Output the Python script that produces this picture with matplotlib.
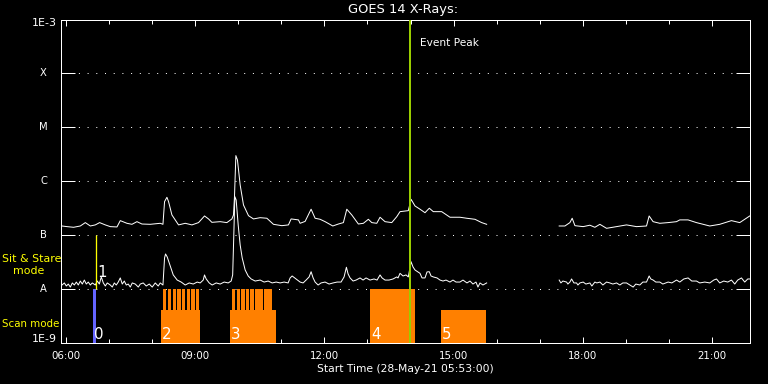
import numpy as np
import matplotlib
matplotlib.use("Agg")
import matplotlib.pyplot as plt
from matplotlib.ticker import FixedLocator, NullLocator, NullFormatter

# ---------------- data ----------------
title = "GOES 14 X-Rays:"
xlabel = "Start Time (28-May-21 05:53:00)"
x_start, x_end = 5 + 53 / 60, 21 + 53 / 60          # decimal hours
time_ticks = [6, 9, 12, 15, 18, 21]
time_tick_labels = ["06:00", "09:00", "12:00", "15:00", "18:00", "21:00"]
minor_time_ticks = list(range(6, 22))
flux_min, flux_max = 1e-9, 1e-3
class_levels = [1e-8, 1e-7, 1e-6, 1e-5, 1e-4]
class_labels = ["A", "B", "C", "M", "X"]

# long channel (1-8 A), decimal hours / W m^-2 ; nan = data gap
long_t = [5.907, 6.023, 6.176, 6.332, 6.448, 6.564, 6.680, 6.780, 6.912, 7.028,
          7.183, 7.260, 7.415, 7.531, 7.647, 7.763, 7.956, 8.188, 8.251, 8.288,
          8.343, 8.381, 8.459, 8.613, 8.768, 8.923, 9.077, 9.216, 9.309, 9.387,
          9.580, 9.735, 9.852, 9.889, 9.912, 9.944, 9.981, 10.044, 10.121, 10.237,
          10.353, 10.508, 10.664, 10.817, 11.012, 11.165, 11.227, 11.397, 11.436, 11.552,
          11.691, 11.784, 11.900, 12.016, 12.195, 12.325, 12.441, 12.520, 12.636, 12.789,
          12.905, 13.021, 13.100, 13.216, 13.292, 13.408, 13.564, 13.680, 13.756, 13.949,
          14.012, 14.104, 14.220, 14.336, 14.436, 14.529, 14.724, 14.916, 15.148, 15.304,
          15.497, 15.652, 15.768, 16.600,
          17.452, 17.585, 17.701, 17.754, 17.818, 18.009, 18.165, 18.281, 18.397, 18.552,
          18.784, 19.016, 19.248, 19.480, 19.541, 19.633, 19.789, 19.981, 20.176, 20.253,
          20.445, 20.640, 20.949, 21.181, 21.452, 21.645, 21.761, 21.877]
long_f = [1.48e-7, 1.44e-7, 1.40e-7, 1.48e-7, 1.71e-7, 1.48e-7, 1.55e-7, 1.71e-7, 1.55e-7, 1.44e-7,
          1.42e-7, 1.86e-7, 1.66e-7, 1.59e-7, 1.78e-7, 1.61e-7, 1.59e-7, 1.66e-7, 1.59e-7, 4.19e-7,
          5.04e-7, 4.19e-7, 2.37e-7, 1.55e-7, 1.66e-7, 1.55e-7, 1.71e-7, 2.27e-7, 2.00e-7, 1.73e-7,
          1.78e-7, 1.71e-7, 2.00e-7, 2.37e-7, 5.18e-7, 2.99e-6, 2.48e-6, 8.53e-7, 3.63e-7, 2.30e-7,
          2.00e-7, 2.11e-7, 2.06e-7, 1.59e-7, 1.50e-7, 1.55e-7, 2.00e-7, 1.92e-7, 1.66e-7, 1.80e-7,
          3.03e-7, 2.06e-7, 1.97e-7, 1.78e-7, 1.48e-7, 1.61e-7, 1.71e-7, 3.03e-7, 2.37e-7, 1.61e-7,
          1.66e-7, 1.97e-7, 1.71e-7, 1.66e-7, 2.15e-7, 1.78e-7, 1.71e-7, 2.20e-7, 2.73e-7, 2.85e-7,
          4.63e-7, 3.48e-7, 3.03e-7, 2.61e-7, 3.16e-7, 2.73e-7, 2.73e-7, 2.15e-7, 2.15e-7, 2.06e-7,
          1.97e-7, 1.71e-7, 1.59e-7, float("nan"),
          1.48e-7, 1.48e-7, 1.71e-7, 2.06e-7, 1.50e-7, 1.44e-7, 1.53e-7, 1.40e-7, 1.59e-7, 1.34e-7,
          1.44e-7, 1.55e-7, 1.44e-7, 1.48e-7, 2.27e-7, 1.78e-7, 1.66e-7, 1.71e-7, 1.78e-7, 1.92e-7,
          1.92e-7, 1.71e-7, 1.48e-7, 1.59e-7, 1.86e-7, 1.71e-7, 1.97e-7, 2.27e-7]

# short channel (0.5-4 A)
short_t = [5.907, 5.961, 6.007, 6.053, 6.100, 6.146, 6.193, 6.239, 6.285, 6.332,
           6.378, 6.425, 6.471, 6.517, 6.564, 6.610, 6.680, 6.726, 6.773, 6.819,
           6.866, 6.912, 6.958, 7.028, 7.074, 7.121, 7.167, 7.213, 7.260, 7.306,
           7.353, 7.399, 7.445, 7.492, 7.538, 7.608, 7.678, 7.724, 7.793, 7.863,
           7.933, 8.002, 8.072, 8.141, 8.188, 8.251, 8.288, 8.311, 8.350, 8.420,
           8.490, 8.582, 8.675, 8.768, 8.861, 8.954, 9.046, 9.116, 9.186, 9.216,
           9.255, 9.325, 9.394, 9.487, 9.580, 9.673, 9.766, 9.835, 9.870, 9.893,
           9.921, 9.951, 9.998, 10.044, 10.091, 10.160, 10.230, 10.299, 10.392, 10.508,
           10.601, 10.694, 10.787, 10.880, 10.972, 11.065, 11.158, 11.204, 11.251, 11.343,
           11.436, 11.506, 11.575, 11.645, 11.691, 11.738, 11.784, 11.854, 11.923, 12.016,
           12.109, 12.202, 12.295, 12.387, 12.457, 12.511, 12.550, 12.596, 12.666, 12.736,
           12.828, 12.898, 12.967, 13.060, 13.153, 13.223, 13.292, 13.339, 13.408, 13.501,
           13.594, 13.680, 13.710, 13.756, 13.826, 13.896, 13.949, 14.012, 14.058, 14.104,
           14.174, 14.220, 14.267, 14.336, 14.383, 14.436, 14.476, 14.529, 14.615, 14.685,
           14.754, 14.824, 14.916, 14.986, 15.056, 15.148, 15.218, 15.311, 15.381, 15.450,
           15.520, 15.566, 15.613, 15.682, 15.768, 16.600,
           17.452, 17.492, 17.538, 17.624, 17.654, 17.701, 17.740, 17.794, 17.856, 17.887,
           17.933, 18.010, 18.072, 18.165, 18.211, 18.281, 18.327, 18.397, 18.467, 18.552,
           18.629, 18.698, 18.784, 18.861, 18.930, 19.016, 19.093, 19.170, 19.232, 19.325,
           19.395, 19.480, 19.541, 19.580, 19.634, 19.696, 19.789, 19.859, 19.982, 20.068,
           20.177, 20.253, 20.346, 20.446, 20.531, 20.640, 20.717, 20.833, 20.949, 21.042,
           21.105, 21.181, 21.274, 21.367, 21.453, 21.529, 21.599, 21.685, 21.761, 21.831,
           21.877]
short_f = [1.19e-8, 1.30e-8, 1.14e-8, 1.24e-8, 1.09e-8, 1.30e-8, 1.19e-8, 1.35e-8, 1.19e-8, 1.41e-8,
           1.24e-8, 1.47e-8, 1.24e-8, 1.35e-8, 1.19e-8, 1.30e-8, 1.19e-8, 1.41e-8, 1.24e-8, 1.68e-8,
           1.30e-8, 1.14e-8, 1.30e-8, 1.19e-8, 1.09e-8, 1.30e-8, 1.19e-8, 1.35e-8, 1.61e-8, 1.24e-8,
           1.41e-8, 1.19e-8, 1.24e-8, 1.09e-8, 1.30e-8, 1.24e-8, 1.09e-8, 1.24e-8, 1.30e-8, 1.14e-8,
           1.24e-8, 1.09e-8, 1.30e-8, 1.14e-8, 1.30e-8, 1.19e-8, 3.78e-8, 4.48e-8, 3.94e-8, 2.68e-8,
           1.83e-8, 1.47e-8, 1.35e-8, 1.19e-8, 1.30e-8, 1.24e-8, 1.35e-8, 1.30e-8, 1.47e-8, 1.83e-8,
           1.54e-8, 1.30e-8, 1.19e-8, 1.30e-8, 1.24e-8, 1.35e-8, 1.30e-8, 1.41e-8, 1.83e-8, 8.15e-8,
           5.18e-7, 4.50e-7, 1.55e-7, 6.58e-8, 3.78e-8, 2.26e-8, 1.75e-8, 1.54e-8, 1.41e-8, 1.47e-8,
           1.35e-8, 1.41e-8, 1.30e-8, 1.35e-8, 1.30e-8, 1.35e-8, 1.30e-8, 1.61e-8, 1.75e-8, 1.54e-8,
           1.35e-8, 1.30e-8, 1.47e-8, 1.68e-8, 2.10e-8, 1.61e-8, 1.35e-8, 1.19e-8, 1.30e-8, 1.35e-8,
           1.24e-8, 1.30e-8, 1.35e-8, 1.35e-8, 1.68e-8, 2.54e-8, 1.91e-8, 1.61e-8, 1.41e-8, 1.47e-8,
           1.61e-8, 1.47e-8, 1.61e-8, 1.47e-8, 1.54e-8, 1.47e-8, 1.83e-8, 1.61e-8, 1.47e-8, 1.47e-8,
           1.54e-8, 1.68e-8, 1.61e-8, 1.96e-8, 1.75e-8, 1.83e-8, 1.68e-8, 3.22e-8, 2.57e-8, 2.26e-8,
           2.08e-8, 1.96e-8, 1.61e-8, 1.61e-8, 2.08e-8, 2.10e-8, 1.75e-8, 1.68e-8, 1.61e-8, 1.47e-8,
           1.41e-8, 1.47e-8, 1.35e-8, 1.47e-8, 1.35e-8, 1.35e-8, 1.47e-8, 1.30e-8, 1.41e-8, 1.24e-8,
           1.35e-8, 1.09e-8, 1.30e-8, 1.19e-8, 1.30e-8, float("nan"),
           1.47e-8, 1.30e-8, 1.41e-8, 1.35e-8, 1.24e-8, 1.35e-8, 1.54e-8, 1.30e-8, 1.30e-8, 1.19e-8,
           1.30e-8, 1.35e-8, 1.24e-8, 1.30e-8, 1.14e-8, 1.35e-8, 1.30e-8, 1.35e-8, 1.19e-8, 1.35e-8,
           1.30e-8, 1.24e-8, 1.30e-8, 1.19e-8, 1.30e-8, 1.30e-8, 1.19e-8, 1.09e-8, 1.24e-8, 1.19e-8,
           1.35e-8, 1.35e-8, 1.75e-8, 1.54e-8, 1.47e-8, 1.35e-8, 1.35e-8, 1.24e-8, 1.35e-8, 1.30e-8,
           1.47e-8, 1.35e-8, 1.54e-8, 1.61e-8, 1.41e-8, 1.41e-8, 1.30e-8, 1.35e-8, 1.30e-8, 1.47e-8,
           1.54e-8, 1.30e-8, 1.41e-8, 1.35e-8, 1.47e-8, 1.24e-8, 1.47e-8, 1.61e-8, 1.35e-8, 1.54e-8,
           1.54e-8]

# observations
obs_ids = ["0", "2", "3", "4", "5"]
obs_start = [6.634, 8.210, 9.810, 13.060, 14.710]
obs_end = [6.704, 9.116, 10.880, 14.105, 15.750]
obs_top = [1e-8, 4.1e-9, 4.1e-9, 1e-8, 4.1e-9]
obs_color = ["#6464ff", "#ff8000", "#ff8000", "#ff8000", "#ff8000"]
raster_starts = [8.251, 8.367, 8.474, 8.582, 8.691, 8.798, 8.907, 9.016,
                 9.852, 9.968, 10.067, 10.176, 10.283, 10.392, 10.492, 10.601, 10.701]
raster_duration = 0.078
sit_stare_id = "1"
sit_stare_time = 6.700
event_peak_time = 13.995

# ---------------- figure ----------------
W, H = 768, 384
fig = plt.figure(figsize=(W / 72, H / 72), dpi=72, facecolor="black")
L, R, T, B = 61, 750, 19.5, 343
ax = fig.add_axes([L / W, 1 - B / H, (R - L) / W, (B - T) / H], facecolor="black")
ax.set_yscale("log")
ax.set_xlim(x_start, x_end)
ax.set_ylim(flux_min, flux_max)

for s in ax.spines.values():
    s.set_color("white")
    s.set_linewidth(1)

# dotted guide lines at class levels
for lv in class_levels:
    ax.axhline(lv, color="white", lw=1, linestyle=(0, (1, 7.7)), zorder=1)

# flux curves
ax.plot(long_t, long_f, color="white", lw=1, zorder=3)
ax.plot(short_t, short_f, color="white", lw=1, zorder=3)

# observation blocks
for s, e, top, c in zip(obs_start, obs_end, obs_top, obs_color):
    ax.bar(s, top - flux_min, width=e - s, bottom=flux_min, align="edge",
           color=c, linewidth=0, zorder=4, antialiased=False)
ax.bar(raster_starts, [1e-8 - flux_min] * len(raster_starts), width=raster_duration,
       bottom=flux_min, align="edge", color="#ff8000", linewidth=0, zorder=4,
       antialiased=False)

ax.vlines(sit_stare_time, 1e-8, 1e-7, color="#ffff00", lw=1.3, zorder=5)
ax.axvline(event_peak_time, color="#9acd00", lw=2, zorder=6)

# labels on observations
for oid, s in zip(obs_ids, obs_start):
    ax.annotate(oid, (s, flux_min), xytext=(1, 4), textcoords="offset points",
                color="white", fontsize=15, ha="left", va="baseline", zorder=7)
ax.annotate(sit_stare_id, (sit_stare_time, 1e-8), xytext=(1, 12), textcoords="offset points",
            color="white", fontsize=15, ha="left", va="baseline", zorder=7)
ax.annotate("Event Peak", (event_peak_time, 1), xycoords=("data", "axes fraction"),
            xytext=(10, -23.5), textcoords="offset points", color="white",
            fontsize=10.5, ha="left", va="center")

# x ticks
ax.xaxis.set_major_locator(FixedLocator(time_ticks))
ax.set_xticklabels(time_tick_labels)
ax.xaxis.set_minor_locator(FixedLocator(minor_time_ticks))
ax.xaxis.set_minor_formatter(NullFormatter())
ax.tick_params(axis="x", which="major", direction="in", length=6, width=1,
               top=True, bottom=True, color="white", labelcolor="white",
               labelsize=10.3, pad=8)
ax.tick_params(axis="x", which="minor", direction="in", length=4, width=1,
               top=True, bottom=True, color="white")

# y ticks
ax.yaxis.set_major_locator(FixedLocator(class_levels))
ax.yaxis.set_minor_locator(NullLocator())
ax.tick_params(axis="y", which="major", direction="in", length=14, width=1,
               left=True, right=True, labelleft=False, color="white")

for lbl, lv in zip(class_labels, class_levels):
    ax.annotate(lbl, (0, lv), xycoords=("axes fraction", "data"), xytext=(-17.5, 0),
                textcoords="offset points", color="white", fontsize=10,
                ha="center", va="center")
ax.annotate("1E-3", (0, flux_max), xycoords=("axes fraction", "data"), xytext=(-4, -3.5),
            textcoords="offset points", color="white", fontsize=11, ha="right", va="center")
ax.annotate("1E-9", (0, flux_min), xycoords=("axes fraction", "data"), xytext=(-4, 4),
            textcoords="offset points", color="white", fontsize=11, ha="right", va="center")

# mode labels
fig.text(2 / W, 1 - 259 / H, "Sit & Stare", color="#ffff00", fontsize=11, ha="left", va="center")
fig.text(13 / W, 1 - 271 / H, "mode", color="#ffff00", fontsize=11, ha="left", va="center")
fig.text(2 / W, 1 - 324 / H, "Scan mode", color="#ffff00", fontsize=10.3, ha="left", va="center")

fig.text(403 / W, 1 - 9 / H, title, color="white", fontsize=13, ha="center", va="center")
fig.text(405 / W, 1 - 368.7 / H, xlabel, color="white", fontsize=10.7, ha="center", va="center")

fig.savefig("out.png", dpi=72, facecolor="black")
